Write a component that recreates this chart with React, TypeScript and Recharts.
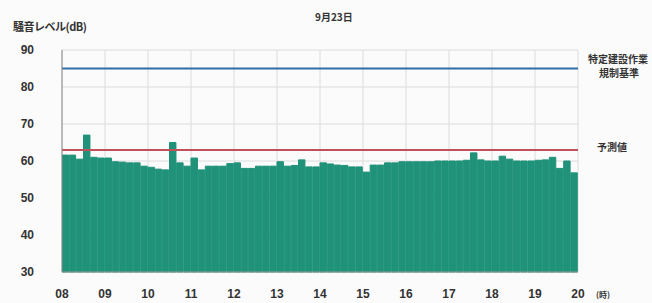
import React from "react";
import {
  Bar,
  CartesianGrid,
  ComposedChart,
  ReferenceLine,
  XAxis,
  YAxis,
} from "recharts";

// 10-minute noise levels (dB), 08:00 - 20:00
const levels = [
  61.6, 61.6, 60.5, 67.0, 61.0, 60.8,
  60.8, 59.8, 59.7, 59.5, 59.5, 58.6,
  58.3, 57.8, 57.6, 65.0, 59.5, 58.6,
  60.8, 57.6, 58.6, 58.6, 58.6, 59.3,
  59.5, 58.0, 58.0, 58.6, 58.6, 58.6,
  59.8, 58.6, 58.8, 60.3, 58.4, 58.4,
  59.5, 59.2, 58.9, 58.8, 58.4, 58.4,
  57.0, 58.9, 58.9, 59.5, 59.5, 59.8,
  59.8, 59.8, 59.8, 59.8, 60.0, 60.0,
  60.0, 60.0, 60.2, 62.2, 60.3, 60.0,
  60.0, 61.3, 60.5, 60.0, 60.0, 60.0,
  60.2, 60.3, 61.0, 58.0, 60.0, 56.8,
];

const hourTicks = [8, 9, 10, 11, 12, 13, 14, 15, 16, 17, 18, 19, 20];
const levelTicks = [30, 40, 50, 60, 70, 80, 90];

const regulationLimit = 85; // 特定建設作業 規制基準
const predicted = 63; // 予測値

const data = levels.map((v, i) => ({ t: 8 + (i + 0.5) / 6, level: v }));

const numFont = "'Liberation Sans', Arial, sans-serif";
const jpFont = "'Noto Sans CJK JP', sans-serif";
const labelStyle: React.CSSProperties = {
  position: "absolute",
  fontWeight: 700,
  fontFamily: jpFont,
  color: "#333",
  whiteSpace: "nowrap",
};

export default function App() {
  return (
    <div
      style={{
        position: "absolute",
        left: 0,
        top: 0,
        width: 652,
        height: 303,
        background: "#fbfbfb",
        overflow: "hidden",
      }}
    >
      <ComposedChart
        width={652}
        height={303}
        data={data}
        margin={{ top: 50, right: 74, bottom: 0, left: 0 }}
        barCategoryGap={0}
        barGap={0}
      >
        <CartesianGrid stroke="#dcdcdc" strokeWidth={1} />
        <XAxis
          dataKey="t"
          type="number"
          domain={[8, 20]}
          ticks={hourTicks}
          allowDataOverflow
          height={31}
          tickLine={false}
          axisLine={{ stroke: "#999" }}
          tickMargin={11}
          tickFormatter={(v: number) => String(v).padStart(2, "0")}
          tick={{ fill: "#333", fontSize: 12, fontWeight: 700, fontFamily: numFont }}
        />
        <YAxis
          domain={[30, 90]}
          ticks={levelTicks}
          width={62}
          tickLine={false}
          axisLine={{ stroke: "#888" }}
          tickMargin={22}
          tick={{ fill: "#333", fontSize: 12, fontWeight: 700, fontFamily: numFont }}
        />
        <Bar
          dataKey="level"
          fill="#1f9279"
          stroke="#1f9279"
          strokeWidth={1}
          barSize={8}
          isAnimationActive={false}
        />
        <ReferenceLine y={regulationLimit} stroke="#2f6ea6" strokeWidth={2} />
        <ReferenceLine y={predicted} stroke="#c2505a" strokeWidth={2} />
      </ComposedChart>

      <div style={{ ...labelStyle, left: 13, top: 18, fontSize: 11, letterSpacing: -0.5 }}>
        騒音レベル(dB)
      </div>
      <div style={{ ...labelStyle, left: 315, top: 9, fontSize: 10 }}>9月23日</div>
      <div style={{ ...labelStyle, left: 588, top: 52, fontSize: 10, lineHeight: "13px" }}>
        特定建設作業
      </div>
      <div style={{ ...labelStyle, left: 599, top: 66, fontSize: 10, lineHeight: "13px" }}>
        規制基準
      </div>
      <div style={{ ...labelStyle, left: 597, top: 139, fontSize: 10 }}>予測値</div>
      <div style={{ ...labelStyle, left: 596, top: 289, fontSize: 8 }}>(時)</div>
    </div>
  );
}
